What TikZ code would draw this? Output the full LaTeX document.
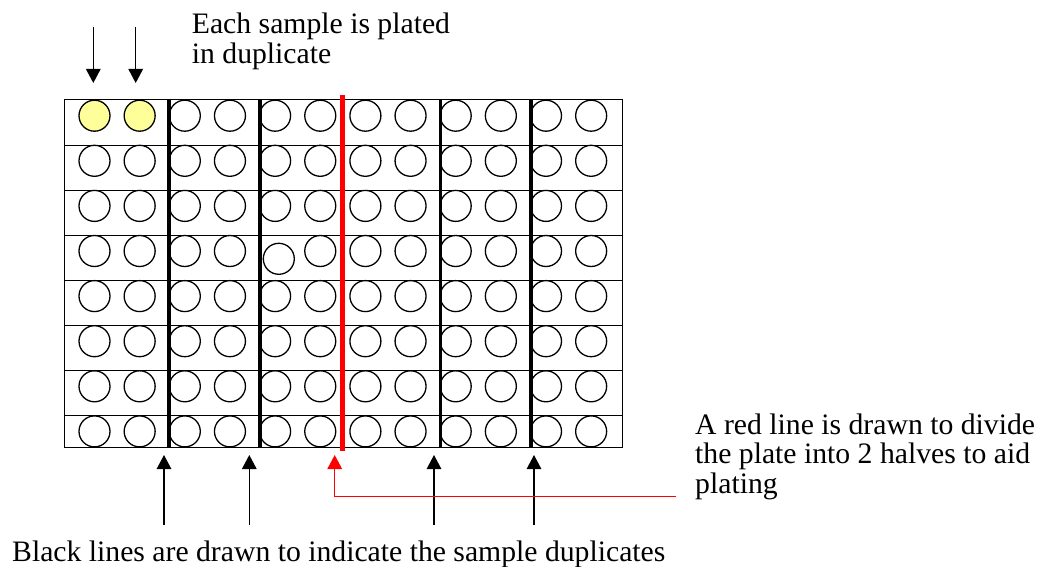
\documentclass[tikz,border=0pt]{standalone}
\usepackage{fontspec}
\setmainfont{Liberation Serif}
\usetikzlibrary{arrows.meta}
\definecolor{wellyellow}{RGB}{255,255,153}
\definecolor{plred}{RGB}{255,0,0}
\begin{document}
\begin{tikzpicture}[x=1pt,y=-1pt,
  well/.style={circle,draw=black,line width=1.3pt,minimum size=31pt,inner sep=0pt},
  gridline/.style={draw=black,line width=1pt},
  divider/.style={draw=black,line width=3.7pt},
  redline/.style={draw=plred,line width=5pt},
  pointer/.style={draw=black,line width=1.3pt,-{Triangle[length=14pt,width=14.5pt]}},
  redpointer/.style={draw=plred,line width=1.5pt,-{Triangle[length=14pt,width=14.5pt]}},
  note/.style={font=\fontsize{29.7}{29.5}\selectfont,inner sep=0pt,align=left,anchor=base west}]
\useasboundingbox (0,0) rectangle (1039,567);
% plate grid
\draw[gridline] (64,100) rectangle (622,447);
\foreach \y in {145.1,190.2,235.3,280.4,325.5,370.6,415.7}
  \draw[gridline] (64,\y) -- (622,\y);
% wells
\foreach \r in {0,...,7}{
  \foreach \c in {0,...,11}{
    \pgfmathsetmacro\cx{94.5+45.15*\c}
    \pgfmathsetmacro\cy{115.7+45.1*\r}
    \def\wfill{none}
    \ifnum\r=0 \ifnum\c<2 \def\wfill{wellyellow}\fi\fi
    \ifnum\r=3 \ifnum\c=4 \def\cx{278.8}\def\cy{258.8}\fi\fi
    \node[well,fill=\wfill] (w-\r-\c) at (\cx,\cy) {};
  }
}
% black divider lines
\foreach \x [count=\i] in {169.2,260.3,440.5,530.7}{
  \coordinate (d\i t) at (\x,100);
  \coordinate (d\i b) at (\x,447);
  \draw[divider] (d\i t) -- (d\i b);
}
% red dividing line
\coordinate (rt) at (342.5,95);
\coordinate (rb) at (342.5,451);
\draw[redline] (rt) -- (rb);
% top arrows
\coordinate (a1s) at (93.3,27);  \coordinate (a1e) at (93.3,83);
\coordinate (a2s) at (135.7,27); \coordinate (a2e) at (135.7,83);
\draw[pointer] (a1s) -- (a1e);
\draw[pointer] (a2s) -- (a2e);
% bottom arrows
\foreach \x [count=\i] in {164,249.3,434,534}{
  \coordinate (b\i s) at (\x,525);
  \coordinate (b\i e) at (\x,455);
  \draw[pointer] (b\i s) -- (b\i e);
}
% red pointer
\coordinate (rs) at (676,496.7);
\coordinate (re) at (334.7,455);
\draw[redpointer] (rs) -| (re);
% texts (base anchor = baseline of last line)
\node[note] (t1) at (191.7,63.3) {Each sample is plated\\in duplicate};
\node[note] (t2) at (695,493) {A red line is drawn to divide\\the plate into 2 halves to aid\\plating};
\node[note] (t3) at (12,561) {Black lines are drawn to indicate the sample duplicates};
\end{tikzpicture}
\end{document}
